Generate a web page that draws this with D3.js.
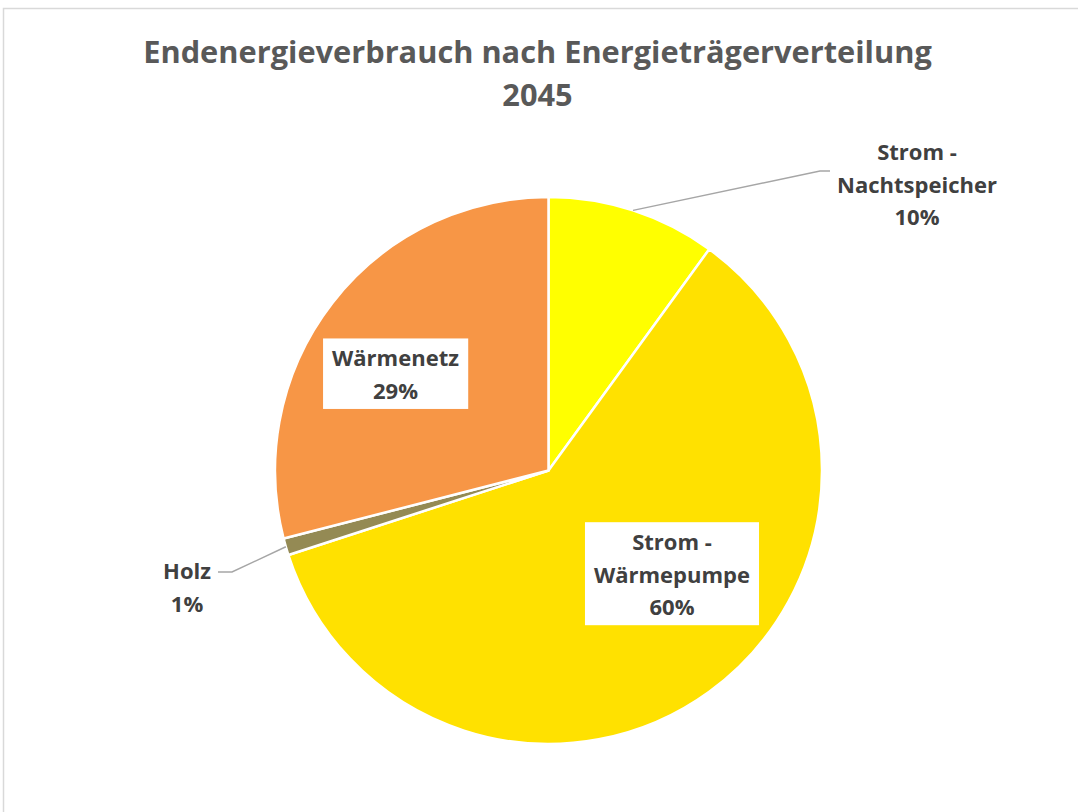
<!DOCTYPE html>
<html>
<head>
<meta charset="utf-8">
<script src="https://cdn.jsdelivr.net/npm/d3@7"></script>
<style>
  html, body { margin: 0; padding: 0; background: #fff; }
  svg { display: block; }
  text { font-family: "Open Sans", Lato, sans-serif; font-weight: bold; }
</style>
</head>
<body>
<script>
// Energy carriers, shares of final energy consumption in 2045 (percent)
const categories = ["Strom - Nachtspeicher", "Strom - Wärmepumpe", "Holz", "Wärmenetz"];
const labelLines = [["Strom -", "Nachtspeicher"], ["Strom -", "Wärmepumpe"], ["Holz"], ["Wärmenetz"]];
const shares = [10, 60, 1, 29];
const colors = ["#FFFF00", "#FFE100", "#948A54", "#F79646"];
const titleLines = ["Endenergieverbrauch nach Energieträgerverteilung", "2045"];

const W = 1078, H = 812;
const cx = 548.5, cy = 470.5, R = 273.5;

const svg = d3.select("body").append("svg").attr("width", W).attr("height", H);

// chart frame (only top and left edges fall inside the window)
svg.append("path")
  .attr("d", `M3.5,${H} V8.5 H${W}`)
  .attr("fill", "none").attr("stroke", "#D9D9D9").attr("stroke-width", 1.5);

// title, sized so the first line spans the intended width
const title = svg.append("text").attr("text-anchor", "middle").attr("fill", "#595959").attr("font-size", 28);
titleLines.forEach((t, i) => {
  title.append("tspan").attr("x", 537.5).attr("y", 63 + i * 43).text(t);
});
const firstLine = title.select("tspan").node();
const tw = firstLine.getComputedTextLength();
title.attr("font-size", 28 * 789 / tw);

const data = categories.map((c, i) => ({ name: c, lines: labelLines[i], value: shares[i], color: colors[i] }));
const pie = d3.pie().sort(null).value(d => d.value).startAngle(0).endAngle(2 * Math.PI);
const arcs = pie(data);
const arc = d3.arc().innerRadius(0).outerRadius(R);
const color = d3.scaleOrdinal().domain(categories).range(colors);

const g = svg.append("g").attr("transform", `translate(${cx},${cy})`);
g.selectAll("path.slice").data(arcs).join("path")
  .attr("class", "slice")
  .attr("d", arc)
  .attr("fill", d => color(d.data.name))
  .attr("stroke", "#fff").attr("stroke-width", 2.5).attr("stroke-linejoin", "round");

// label placement (block centres relative to the pie centre)
const labelPos = {
  "Strom - Nachtspeicher": { x: 368.5, y: -285.5, box: false, leader: true },
  "Strom - Wärmepumpe": { x: 123.5, y: 104.5, box: true },
  "Holz": { x: -361.5, y: 117.5, box: false, leader: true },
  "Wärmenetz": { x: -153, y: -95.5, box: true }
};
const lineH = 32.5, fs = 22;

// leader lines from slice edge to outside labels
const leaderPts = {
  "Strom - Nachtspeicher": [[271.5, -299.5], [281.5, -299.5]],
  "Holz": [[-316.5, 101.5], [-330.5, 101.5]]
};
arcs.forEach(a => {
  const p = labelPos[a.data.name];
  if (!p.leader) return;
  const mid = (a.startAngle + a.endAngle) / 2;
  const start = [Math.sin(mid) * R, -Math.cos(mid) * R];
  g.append("path")
    .attr("d", d3.line()([start, ...leaderPts[a.data.name]]))
    .attr("fill", "none").attr("stroke", "#A6A6A6").attr("stroke-width", 1.5);
});

arcs.forEach(a => {
  const p = labelPos[a.data.name];
  const lines = [...a.data.lines, `${a.data.value}%`];
  const lg = g.append("g").attr("transform", `translate(${p.x},${p.y})`);
  const n = lines.length;
  const top = -((n - 1) * lineH) / 2;
  const txt = lg.append("text").attr("text-anchor", "middle").attr("fill", "#404040").attr("font-size", fs);
  lines.forEach((l, i) => {
    txt.append("tspan").attr("x", 0).attr("y", top + i * lineH).attr("dy", "0.35em").text(l);
  });
  if (p.box) {
    const bb = txt.node().getBBox();
    const padX = 9, padY = 4;
    lg.insert("rect", "text")
      .attr("x", bb.x - padX).attr("y", bb.y - padY)
      .attr("width", bb.width + 2 * padX).attr("height", bb.height + 2 * padY)
      .attr("fill", "#fff");
  }
});
</script>
</body>
</html>
